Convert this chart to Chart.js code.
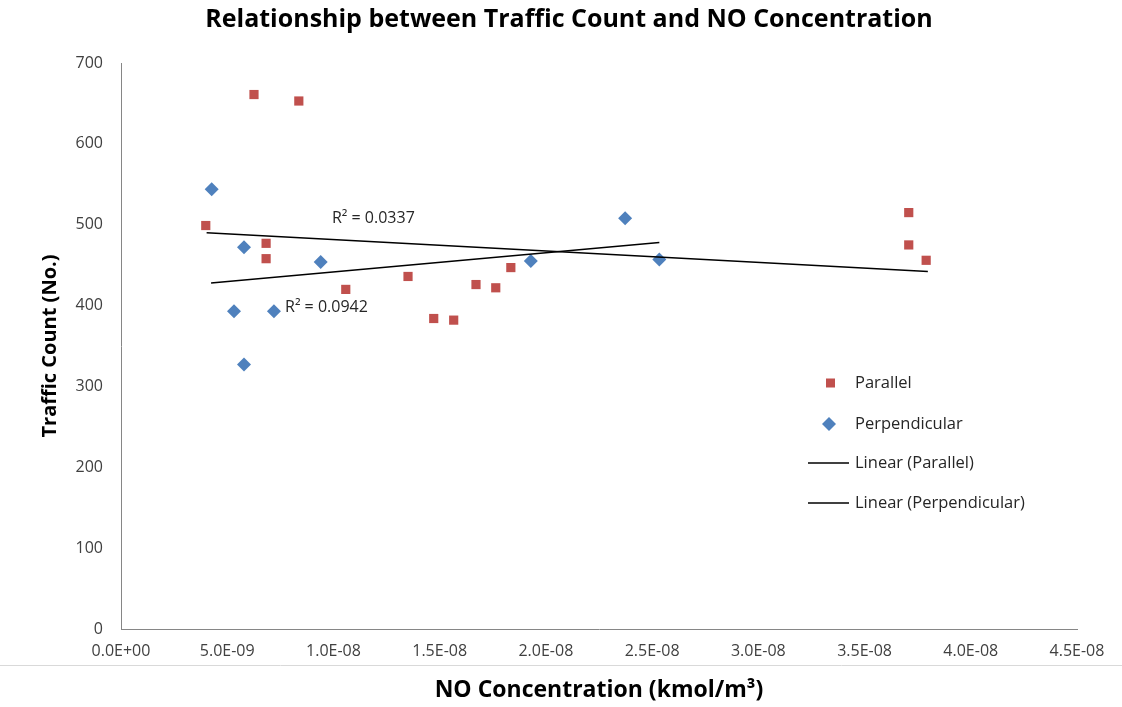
<!DOCTYPE html>
<html>
<head>
<meta charset="utf-8">
<script src="https://cdn.jsdelivr.net/npm/chart.js@4.4.1/dist/chart.umd.min.js"></script>
<style>
  html, body { margin: 0; padding: 0; background: #fff; }
  #wrap { width: 1122px; height: 707px; }
</style>
</head>
<body>
<div id="wrap"><canvas id="chart" width="1122" height="707"></canvas></div>
<script>
// NO concentration (kmol/m3) and traffic count
const parallelNO = [3.99e-9, 6.26e-9, 8.37e-9, 6.83e-9, 6.83e-9, 1.058e-8, 1.351e-8, 1.472e-8,
  1.566e-8, 1.671e-8, 1.764e-8, 1.835e-8, 3.708e-8, 3.708e-8, 3.79e-8];
const parallelCount = [499, 661, 653, 477, 458, 420, 436, 384, 382, 426, 422, 447, 515, 475, 456];

const perpNO = [4.27e-9, 5.79e-9, 9.4e-9, 1.929e-8, 5.32e-9, 7.2e-9, 5.79e-9, 2.373e-8, 2.534e-8];
const perpCount = [544, 472, 454, 455, 393, 393, 327, 508, 457];

// trendline end points (Excel linear fit)
const parallelTrendNO = [4.03e-9, 3.798e-8];
const parallelTrendCount = [490, 442];
const perpTrendNO = [4.24e-9, 2.534e-8];
const perpTrendCount = [428, 478];

// R squared labels: text, anchor NO, anchor count
const r2Labels = [
  ["R\u00B2 = 0.0337", 9.93e-9, 508],
  ["R\u00B2 = 0.0942", 7.72e-9, 398],
];

const chartTitle = "Relationship between Traffic Count and NO Concentration";
const legendItems = ["Parallel", "Perpendicular", "Linear (Parallel)", "Linear (Perpendicular)"];

const RED = "#C0504D";
const BLUE = "#4F81BD";
const TEXT = "#404040";

const toPoints = (xs, ys) => xs.map((x, i) => ({ x, y: ys[i] }));

// 5.0E-09 style labels
const sci = (v) => {
  if (Math.abs(v) < 1e-15) return "0.0E+00";
  const [m, e] = v.toExponential(1).split("e");
  const n = parseInt(e, 10);
  return m + "E" + (n < 0 ? "-" : "+") + String(Math.abs(n)).padStart(2, "0");
};

const extras = {
  id: "extras",
  afterDraw(chart) {
    const ctx = chart.ctx;
    const { x, y } = chart.scales;
    ctx.save();

    // chart title (sits a bit right of canvas centre, like the original)
    ctx.font = "bold 25px 'Open Sans'";
    ctx.fillStyle = "#000";
    ctx.textAlign = "center";
    ctx.textBaseline = "middle";
    ctx.fillText(chartTitle, 569, 20);

    // thin rule under the tick labels
    ctx.strokeStyle = "#d9d9d9";
    ctx.lineWidth = 1;
    ctx.beginPath();
    ctx.moveTo(0, 665.5);
    ctx.lineTo(1122, 665.5);
    ctx.stroke();

    // R2 labels
    ctx.font = "16px 'Open Sans'";
    ctx.fillStyle = "#262626";
    ctx.textAlign = "left";
    r2Labels.forEach(([t, nx, ny]) => {
      ctx.fillText(t, x.getPixelForValue(nx), y.getPixelForValue(ny));
    });

    // legend
    const lx = 855;
    const rows = [383, 424, 463, 503];
    ctx.fillStyle = RED;
    ctx.fillRect(826, rows[0] - 4.5, 9, 9);
    ctx.fillStyle = BLUE;
    ctx.beginPath();
    ctx.moveTo(829, rows[1] - 7);
    ctx.lineTo(836, rows[1]);
    ctx.lineTo(829, rows[1] + 7);
    ctx.lineTo(822, rows[1]);
    ctx.closePath();
    ctx.fill();
    ctx.strokeStyle = "#000";
    ctx.lineWidth = 1.5;
    [rows[2], rows[3]].forEach((ry) => {
      ctx.beginPath();
      ctx.moveTo(808, ry);
      ctx.lineTo(849, ry);
      ctx.stroke();
    });
    ctx.font = "16.5px 'Open Sans'";
    ctx.fillStyle = "#262626";
    legendItems.forEach((t, i) => ctx.fillText(t, lx, rows[i]));
    ctx.restore();
  },
};

new Chart(document.getElementById("chart"), {
  type: "scatter",
  data: {
    datasets: [
      {
        label: "Parallel",
        data: toPoints(parallelNO, parallelCount),
        pointStyle: "rect",
        pointRadius: 6.5,
        backgroundColor: RED,
        borderColor: RED,
        borderWidth: 0,
        order: 1,
      },
      {
        label: "Perpendicular",
        data: toPoints(perpNO, perpCount),
        pointStyle: "rectRot",
        pointRadius: 7,
        backgroundColor: BLUE,
        borderColor: BLUE,
        borderWidth: 0,
        order: 1,
      },
      {
        label: "Linear (Parallel)",
        data: toPoints(parallelTrendNO, parallelTrendCount),
        showLine: true,
        pointRadius: 0,
        borderColor: "#000",
        borderWidth: 1.5,
        order: 0,
      },
      {
        label: "Linear (Perpendicular)",
        data: toPoints(perpTrendNO, perpTrendCount),
        showLine: true,
        pointRadius: 0,
        borderColor: "#000",
        borderWidth: 1.5,
        order: 0,
      },
    ],
  },
  options: {
    responsive: false,
    animation: false,
    layout: { padding: { top: 63, right: 45, left: 0, bottom: 0 } },
    plugins: {
      legend: { display: false },
      tooltip: { enabled: false },
      title: { display: false },
    },
    scales: {
      x: {
        type: "linear",
        min: 0,
        max: 4.5e-8,
        afterFit: (s) => { s.height = 78; },
        grid: { display: false, drawTicks: false },
        border: { display: true, color: "#868686", width: 1 },
        ticks: {
          stepSize: 5e-9,
          padding: 13,
          maxRotation: 0,
          autoSkip: false,
          color: TEXT,
          font: { family: "'Open Sans'", size: 16 },
          callback: (v) => sci(v),
        },
        title: {
          display: true,
          text: "NO Concentration (kmol/m\u00B3)",
          color: "#000",
          font: { family: "'Open Sans'", size: 23, weight: "bold" },
          padding: { top: 0, bottom: 3 },
        },
      },
      y: {
        min: 0,
        max: 700,
        afterFit: (s) => { s.width = 121; },
        grid: { display: false, drawTicks: false },
        border: { display: true, color: "#868686", width: 1 },
        ticks: {
          stepSize: 100,
          padding: 18,
          color: TEXT,
          font: { family: "'Open Sans'", size: 16 },
        },
        title: {
          display: true,
          text: "Traffic Count (No.)",
          color: "#000",
          font: { family: "'Open Sans'", size: 20, weight: "bold" },
          padding: { top: 38, bottom: 0 },
        },
      },
    },
  },
  plugins: [extras],
});
</script>
</body>
</html>
